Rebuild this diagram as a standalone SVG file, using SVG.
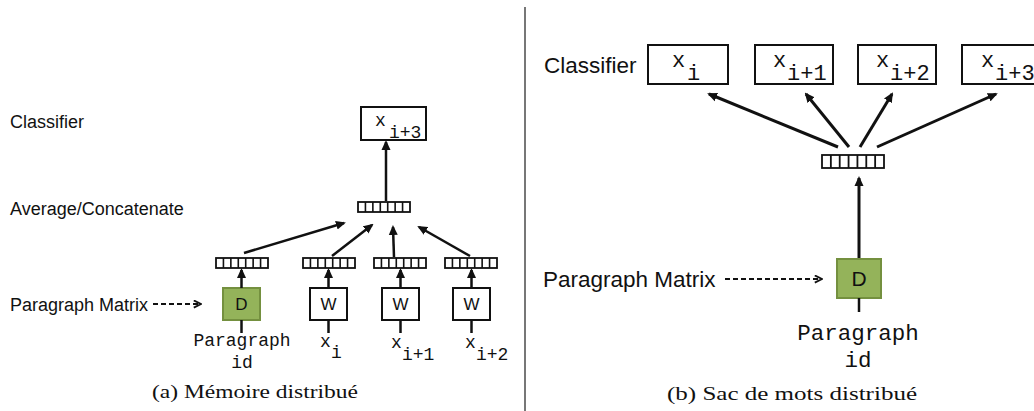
<svg xmlns="http://www.w3.org/2000/svg" xmlns:xlink="http://www.w3.org/1999/xlink" width="1034" height="411" viewBox="0 0 1034 411">
  <style>
    .lbl { font-family: "Liberation Sans", Arial, sans-serif; fill: #111; }
    .mono { font-family: "Liberation Mono", "Courier New", monospace; fill: #111; }
    .cap { font-family: "Liberation Serif", "Times New Roman", serif; fill: #111; }
    .box { fill: #fff; stroke: #111; stroke-width: 2; }
    .dbox { fill: #94b35a; stroke: #74903f; stroke-width: 2; }
    .edge { stroke: #111; stroke-width: 2.5; fill: none; }
    .edgeL { stroke: #111; stroke-width: 3; fill: none; }
    .tail { stroke: #111; stroke-width: 2.5; }
    .dash { stroke: #111; stroke-width: 2; stroke-dasharray: 5 3; fill: none; }
    .cell { fill: #fff; stroke: #111; stroke-width: 1.8; }
  </style>
  <defs>
    <marker id="head" viewBox="0 0 10 10" refX="8" refY="5" markerWidth="10" markerHeight="10" markerUnits="userSpaceOnUse" orient="auto">
      <path d="M0,0.5 L10,5 L0,9.5 Z" fill="#111"/>
    </marker>
    <marker id="chev" viewBox="0 0 10 10" refX="9" refY="5" markerWidth="9" markerHeight="9" markerUnits="userSpaceOnUse" orient="auto">
      <path d="M1,1 L9,5 L1,9" fill="none" stroke="#111" stroke-width="2"/>
    </marker>
    <!-- small 7-cell embedding vector -->
    <g id="vecS">
      <rect class="cell" x="0" y="0" width="52" height="10"/>
      <path d="M7.43,0v10M14.86,0v10M22.29,0v10M29.71,0v10M37.14,0v10M44.57,0v10" stroke="#111" stroke-width="1.6"/>
    </g>
    <!-- large 7-cell embedding vector -->
    <g id="vecL">
      <rect class="cell" x="0" y="0" width="62" height="13"/>
      <path d="M8.86,0v13M17.71,0v13M26.57,0v13M35.43,0v13M44.29,0v13M53.14,0v13" stroke="#111" stroke-width="1.8"/>
    </g>
  </defs>

  <rect width="1034" height="411" fill="#fff"/>

  <!-- panel divider -->
  <line x1="525" y1="7" x2="525" y2="411" stroke="#777" stroke-width="2"/>

  <!-- ===== (a) distributed memory ===== -->
  <g id="a-labels">
    <text class="lbl" x="10" y="128" font-size="18">Classifier</text>
    <text class="lbl" x="10" y="215" font-size="18">Average/Concatenate</text>
    <text class="lbl" x="10" y="311" font-size="18">Paragraph Matrix</text>
  </g>

  <g id="a-out">
    <rect class="box" x="361" y="107" width="65" height="33"/>
    <text class="mono" font-size="18"><tspan x="375" y="126">x</tspan><tspan x="389" y="138">i+3</tspan></text>
  </g>

  <g id="a-avg"><use href="#vecS" x="358" y="202"/></g>

  <g id="a-vec-d"><use href="#vecS" x="216" y="258"/></g>
  <g id="a-vec-w1"><use href="#vecS" x="303" y="258"/></g>
  <g id="a-vec-w2"><use href="#vecS" x="374" y="258"/></g>
  <g id="a-vec-w3"><use href="#vecS" x="445" y="258"/></g>

  <g id="a-d">
    <rect class="dbox" x="223" y="288" width="37" height="32"/>
    <text class="lbl" x="241.5" y="310" font-size="17" text-anchor="middle">D</text>
  </g>
  <g id="a-w1">
    <rect class="box" x="310" y="288" width="37" height="32"/>
    <text class="lbl" x="328.5" y="310" font-size="17" text-anchor="middle">W</text>
  </g>
  <g id="a-w2">
    <rect class="box" x="382" y="288" width="37" height="32"/>
    <text class="lbl" x="400.5" y="310" font-size="17" text-anchor="middle">W</text>
  </g>
  <g id="a-w3">
    <rect class="box" x="453" y="288" width="37" height="32"/>
    <text class="lbl" x="471.5" y="310" font-size="17" text-anchor="middle">W</text>
  </g>

  <g id="a-inputs">
    <text class="mono" font-size="18" text-anchor="middle"><tspan x="242" y="346">Paragraph</tspan><tspan x="242" y="368">id</tspan></text>
    <text class="mono" font-size="18"><tspan x="320" y="347">x</tspan><tspan x="331" y="358">i</tspan></text>
    <text class="mono" font-size="18"><tspan x="391" y="348">x</tspan><tspan x="402" y="360">i+1</tspan></text>
    <text class="mono" font-size="18"><tspan x="465" y="348">x</tspan><tspan x="476" y="360">i+2</tspan></text>
  </g>

  <g id="a-connectors">
    <line class="dash" x1="153" y1="304" x2="201" y2="304" marker-end="url(#chev)"/>
    <line class="tail" x1="241.5" y1="320" x2="241.5" y2="333"/>
    <line class="tail" x1="328.5" y1="320" x2="328.5" y2="333"/>
    <line class="tail" x1="400.5" y1="320" x2="400.5" y2="333"/>
    <line class="tail" x1="471.5" y1="320" x2="471.5" y2="333"/>
    <line class="edge" x1="241.5" y1="288" x2="241.5" y2="270" marker-end="url(#head)"/>
    <line class="edge" x1="328.5" y1="288" x2="328.5" y2="270" marker-end="url(#head)"/>
    <line class="edge" x1="400.5" y1="288" x2="400.5" y2="270" marker-end="url(#head)"/>
    <line class="edge" x1="471.5" y1="288" x2="471.5" y2="270" marker-end="url(#head)"/>
    <line class="edge" x1="244" y1="253" x2="344" y2="223" marker-end="url(#head)"/>
    <line class="edge" x1="332" y1="256" x2="372" y2="225" marker-end="url(#head)"/>
    <line class="edge" x1="394" y1="257" x2="393" y2="227" marker-end="url(#head)"/>
    <line class="edge" x1="470" y1="256" x2="419" y2="227" marker-end="url(#head)"/>
    <line class="edge" x1="386" y1="201" x2="386" y2="142" marker-end="url(#head)"/>
  </g>

  <text class="cap" x="255" y="398" font-size="19" text-anchor="middle" textLength="206" lengthAdjust="spacingAndGlyphs">(a) Mémoire distribué</text>

  <!-- ===== (b) distributed bag of words ===== -->
  <g id="b-labels">
    <text class="lbl" x="544" y="73" font-size="22.5">Classifier</text>
    <text class="lbl" x="543" y="287" font-size="22.5">Paragraph Matrix</text>
  </g>

  <g id="b-out1">
    <rect class="box" x="648" y="45" width="80" height="39"/>
    <text class="mono" font-size="22"><tspan x="672" y="67">x</tspan><tspan x="687" y="80">i</tspan></text>
  </g>
  <g id="b-out2">
    <rect class="box" x="755" y="45" width="78" height="39"/>
    <text class="mono" font-size="22"><tspan x="773" y="67">x</tspan><tspan x="787" y="80">i+1</tspan></text>
  </g>
  <g id="b-out3">
    <rect class="box" x="858" y="45" width="78" height="39"/>
    <text class="mono" font-size="22"><tspan x="876" y="67">x</tspan><tspan x="890" y="80">i+2</tspan></text>
  </g>
  <g id="b-out4">
    <rect class="box" x="962" y="45" width="80" height="39"/>
    <text class="mono" font-size="22"><tspan x="981" y="67">x</tspan><tspan x="995" y="80">i+3</tspan></text>
  </g>

  <g id="b-vec"><use href="#vecL" x="822" y="155"/></g>

  <g id="b-d">
    <rect class="dbox" x="837" y="259" width="44" height="39"/>
    <text class="lbl" x="859" y="286" font-size="21" text-anchor="middle">D</text>
  </g>

  <g id="b-input">
    <text class="mono" font-size="22.5" text-anchor="middle"><tspan x="858" y="340">Paragraph</tspan><tspan x="858" y="367">id</tspan></text>
  </g>

  <g id="b-connectors">
    <line class="dash" x1="725" y1="279" x2="822" y2="279" marker-end="url(#chev)"/>
    <line class="tail" x1="859" y1="298" x2="859" y2="312" stroke-width="3"/>
    <line class="edgeL" x1="859" y1="258" x2="859" y2="178" marker-end="url(#head)"/>
    <line class="edgeL" x1="838" y1="147" x2="709" y2="94" marker-end="url(#head)"/>
    <line class="edgeL" x1="849" y1="147" x2="806" y2="94" marker-end="url(#head)"/>
    <line class="edgeL" x1="860" y1="147" x2="892" y2="94" marker-end="url(#head)"/>
    <line class="edgeL" x1="877" y1="147" x2="996" y2="94" marker-end="url(#head)"/>
  </g>

  <text class="cap" x="792" y="400" font-size="19" text-anchor="middle" textLength="250" lengthAdjust="spacingAndGlyphs">(b) Sac de mots distribué</text>
</svg>
